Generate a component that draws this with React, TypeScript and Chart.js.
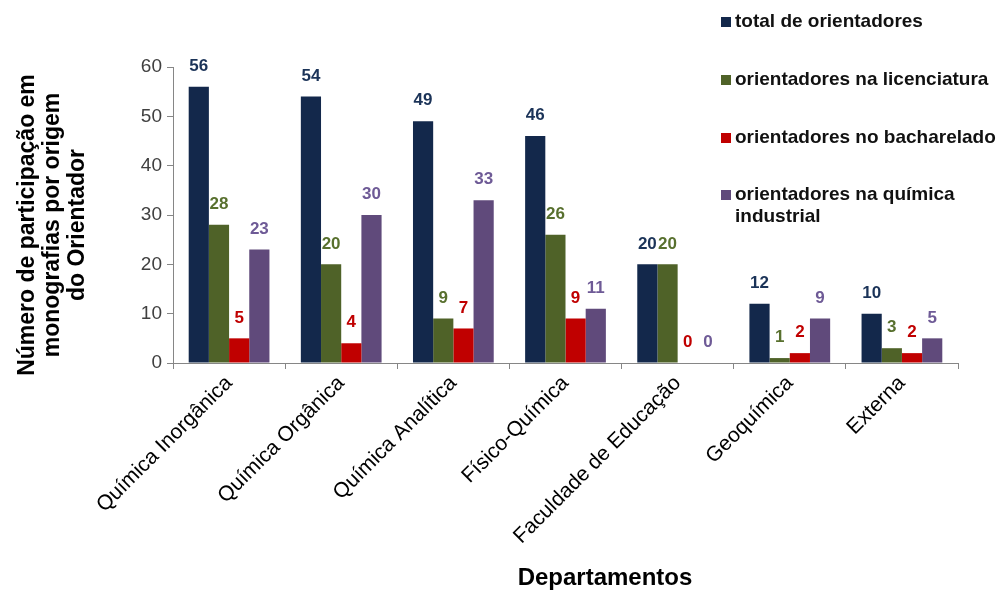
import React, { useEffect, useRef } from "react";
import { Chart, registerables } from "chart.js";

Chart.register(...registerables);

const categories = [
  "Química Inorgânica",
  "Química Orgânica",
  "Química Analítica",
  "Físico-Química",
  "Faculdade de Educação",
  "Geoquímica",
  "Externa",
];
const totalOrientadores = [56, 54, 49, 46, 20, 12, 10];
const licenciatura = [28, 20, 9, 26, 20, 1, 3];
const bacharelado = [5, 4, 7, 9, 0, 2, 2];
const quimicaIndustrial = [23, 30, 33, 11, 0, 9, 5];
const seriesNames = [
  "total de orientadores",
  "orientadores na licenciatura",
  "orientadores no bacharelado",
  ["orientadores na química", "industrial"],
];
const yTicks = [0, 10, 20, 30, 40, 50, 60];
const yTitleLines = ["Número de participação em", "monografias por origem", "do Orientador"];
const xTitle = "Departamentos";

const barColors = ["#13284B", "#4F6228", "#C00000", "#604A7B"];
const labelColors = ["#1B3358", "#58702E", "#C00000", "#6E5A96"];
const FONT = '"Liberation Sans", Arial, sans-serif';

export default function App() {
  const ref = useRef<HTMLCanvasElement>(null);

  useEffect(() => {
    if (!ref.current) return;
    const decor = {
      id: "decor",
      afterDatasetsDraw(chart: any) {
        const ctx = chart.ctx;
        ctx.save();
        ctx.font = `bold 17px ${FONT}`;
        ctx.textAlign = "center";
        ctx.textBaseline = "bottom";
        chart.data.datasets.forEach((ds: any, i: number) => {
          const meta = chart.getDatasetMeta(i);
          meta.data.forEach((bar: any, j: number) => {
            ctx.fillStyle = labelColors[i];
            ctx.fillText(String(ds.data[j]), bar.x, bar.y - 12);
          });
        });
        ctx.restore();
      },
      afterDraw(chart: any) {
        const ctx = chart.ctx;
        ctx.save();
        // legend
        const legendY = [22, 80, 138, 195];
        ctx.font = `bold 19px ${FONT}`;
        ctx.textBaseline = "middle";
        ctx.textAlign = "left";
        seriesNames.forEach((name: any, i: number) => {
          ctx.fillStyle = barColors[i];
          ctx.fillRect(721, legendY[i] - 5, 10, 10);
          ctx.fillStyle = "#111";
          const lines = Array.isArray(name) ? name : [name];
          lines.forEach((ln: string, k: number) => {
            ctx.fillText(ln, 735, legendY[i] + k * 22);
          });
        });
        // y title
        ctx.font = `bold 23px ${FONT}`;
        ctx.fillStyle = "#000";
        ctx.textAlign = "center";
        ctx.textBaseline = "middle";
        yTitleLines.forEach((ln, k) => {
          ctx.save();
          ctx.translate(28 + k * 25, 225);
          ctx.rotate(-Math.PI / 2);
          ctx.fillText(ln, 0, 0);
          ctx.restore();
        });
        // x title
        ctx.font = `bold 24px ${FONT}`;
        ctx.fillText(xTitle, 605, 578);
        ctx.restore();
      },
    };

    const chart = new Chart(ref.current, {
      type: "bar",
      data: {
        labels: categories,
        datasets: [
          { label: "total de orientadores", data: totalOrientadores, backgroundColor: barColors[0] },
          { label: "orientadores na licenciatura", data: licenciatura, backgroundColor: barColors[1] },
          { label: "orientadores no bacharelado", data: bacharelado, backgroundColor: barColors[2] },
          { label: "orientadores na química industrial", data: quimicaIndustrial, backgroundColor: barColors[3] },
        ],
      },
      options: {
        animation: false,
        responsive: false,
        devicePixelRatio: 1,
        layout: { padding: { top: 67, right: 42, bottom: 0, left: 0 } },
        plugins: { legend: { display: false }, tooltip: { enabled: false } },
        datasets: { bar: { categoryPercentage: 0.72, barPercentage: 1 } },
        scales: {
          x: {
            grid: { offset: true, drawOnChartArea: false, tickLength: 6, color: "#868686" },
            border: { color: "#868686" },
            ticks: {
              minRotation: 45,
              maxRotation: 45,
              autoSkip: false,
              padding: 2,
              color: "#000",
              font: { family: FONT, size: 21 },
            },
            afterFit(scale: any) {
              scale.height = 229;
            },
          },
          y: {
            min: 0,
            max: 60,
            afterBuildTicks(scale: any) {
              scale.ticks = yTicks.map((v) => ({ value: v }));
            },
            grid: { drawOnChartArea: false, tickLength: 6, color: "#868686" },
            border: { color: "#868686" },
            ticks: { padding: 5, color: "#404040", font: { family: FONT, size: 19 } },
            afterFit(scale: any) {
              scale.width = 173;
            },
          },
        },
      },
      plugins: [decor],
    });
    return () => chart.destroy();
  }, []);

  return (
    <div style={{ position: "absolute", left: 0, top: 0, width: 1000, height: 592, background: "#fff" }}>
      <canvas ref={ref} width={1000} height={592} />
    </div>
  );
}
